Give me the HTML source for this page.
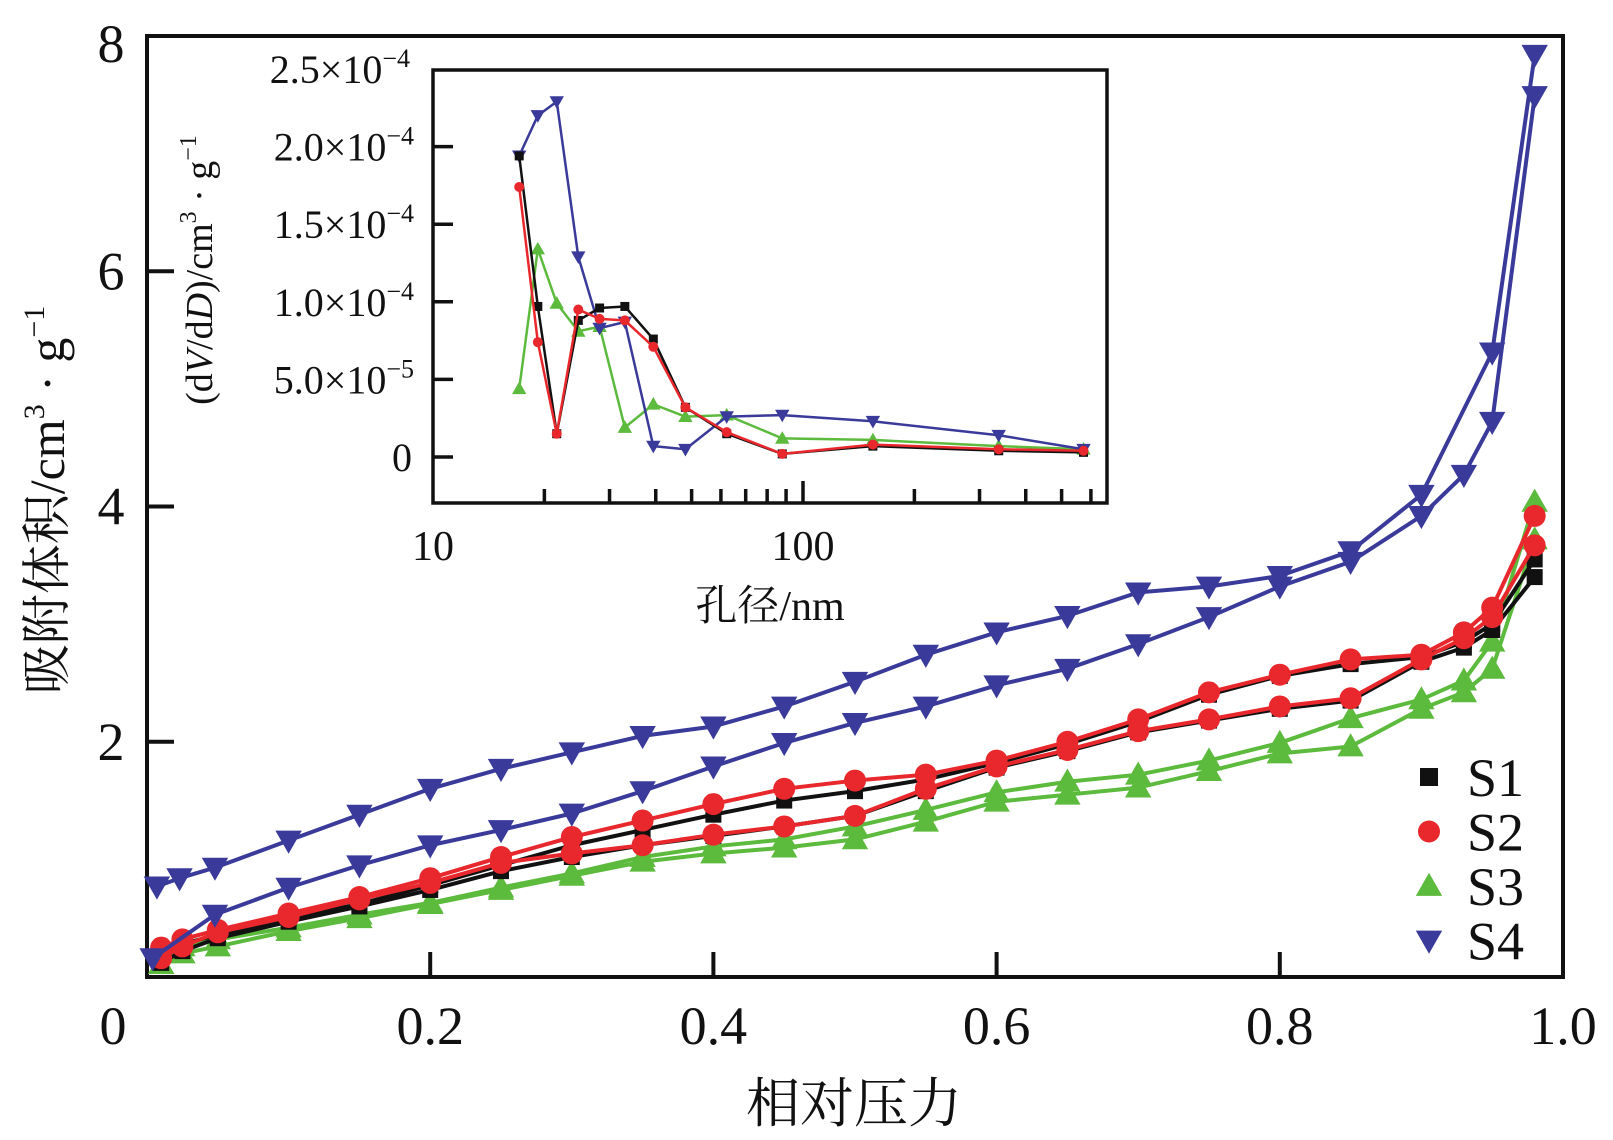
<!DOCTYPE html>
<html><head><meta charset="utf-8"><style>
html,body{margin:0;padding:0;background:#fff;}
svg{display:block;}
text{font-family:"Liberation Serif","Noto Serif CJK SC",serif;}
</style></head><body>
<svg id="chart" width="1613" height="1140" viewBox="0 0 1613 1140">
<g id="main"></g>
<g id="inset"></g>
</svg>
<script>
// Main plot data (relative pressure vs adsorbed volume)
const pStd = [0.01,0.025,0.05,0.1,0.15,0.2,0.25,0.3,0.35,0.4,0.45,0.5,0.55,0.6,0.65,0.7,0.75,0.8,0.85,0.9,0.93,0.95,0.98];
const s1Upper = [0.2,0.28,0.36,0.5,0.62,0.78,0.95,1.12,1.25,1.38,1.5,1.58,1.68,1.82,1.98,2.17,2.4,2.56,2.66,2.72,2.85,3.0,3.55];
const s1Lower = [0.12,0.22,0.33,0.47,0.6,0.74,0.9,1.02,1.12,1.2,1.28,1.37,1.58,1.78,1.92,2.08,2.18,2.28,2.35,2.68,2.8,2.95,3.4];
const s2Upper = [0.25,0.32,0.40,0.54,0.68,0.84,1.02,1.19,1.33,1.47,1.60,1.67,1.72,1.84,2.00,2.19,2.42,2.57,2.70,2.74,2.93,3.14,3.92];
const s2Lower = [0.16,0.26,0.38,0.51,0.66,0.80,0.97,1.05,1.12,1.21,1.28,1.37,1.60,1.79,1.93,2.09,2.19,2.30,2.37,2.70,2.88,3.06,3.67];
const s3Upper = [0.11,0.26,0.32,0.42,0.53,0.63,0.76,0.88,1.02,1.11,1.17,1.28,1.42,1.57,1.66,1.72,1.84,1.99,2.20,2.36,2.52,2.85,4.04];
const s3Lower = [0.11,0.2,0.26,0.39,0.5,0.62,0.74,0.86,0.98,1.05,1.10,1.17,1.32,1.49,1.55,1.61,1.75,1.90,1.96,2.28,2.42,2.62,3.72];
const s4UpperP = [0.007,0.023,0.048,0.1,0.15,0.2,0.25,0.3,0.35,0.4,0.45,0.5,0.55,0.6,0.65,0.7,0.75,0.8,0.85,0.9,0.95,0.98];
const s4Upper = [0.77,0.84,0.93,1.16,1.38,1.60,1.77,1.91,2.05,2.13,2.30,2.51,2.74,2.93,3.07,3.27,3.32,3.41,3.62,4.10,5.31,7.84];
const s4LowerP = [0.004,0.048,0.1,0.15,0.2,0.25,0.3,0.35,0.4,0.45,0.5,0.55,0.6,0.65,0.7,0.75,0.8,0.85,0.9,0.93,0.95,0.98];
const s4Lower = [0.16,0.53,0.76,0.95,1.12,1.25,1.39,1.58,1.79,1.99,2.16,2.30,2.48,2.62,2.83,3.06,3.32,3.53,3.92,4.27,4.72,7.49];
const xTicks = [0,0.2,0.4,0.6,0.8,1.0];
const xTickLabels = ["0","0.2","0.4","0.6","0.8","1.0"];
const yTicks = [2,4,6,8];
const yTickLabels = ["2","4","6","8"];
// Inset data (pore size distribution)
const dSize = [17.1,19.2,21.6,24.7,28.2,33,39.4,48.1,62.2,87.9,154.5,338,573];
const i1 = [1.94,0.97,0.15,0.88,0.96,0.97,0.76,0.32,0.15,0.02,0.07,0.04,0.03];
const i2 = [1.74,0.74,0.15,0.95,0.89,0.88,0.71,0.32,0.16,0.02,0.08,0.05,0.04];
const i3 = [0.44,1.34,0.99,0.81,0.84,0.19,0.34,0.26,0.27,0.12,0.11,0.07,0.05];
const i4 = [1.94,2.2,2.29,1.29,0.83,0.87,0.07,0.05,0.26,0.27,0.23,0.14,0.05];
const iyTicks = [0,0.5,1.0,1.5,2.0,2.5];
const iyTickLabels = ["0","5.0×10<tspan dy='-16' font-size='26'>−5</tspan>","1.0×10<tspan dy='-16' font-size='26'>−4</tspan>","1.5×10<tspan dy='-16' font-size='26'>−4</tspan>","2.0×10<tspan dy='-16' font-size='26'>−4</tspan>","2.5×10<tspan dy='-16' font-size='26'>−4</tspan>"];
const ixTicks = [10,100];
const ixTickLabels = ["10","100"];

const NS="http://www.w3.org/2000/svg";
const FONT='"Liberation Serif", "Noto Serif CJK SC", serif';
function mk(parent,tag,attrs,name){const e=document.createElementNS(NS,tag);for(const k in attrs)e.setAttribute(k,attrs[k]);
if(tag==='text') e.setAttribute('font-family',FONT);


parent.appendChild(e);return e;}

const L=147,R=1563,T=36,B=977;
const X=p=>L+p*(R-L);
const Y=v=>B-v/8*(B-T);
const main=document.getElementById('main');
mk(main,'rect',{x:L,y:T,width:R-L,height:B-T,fill:'none',stroke:'#111','stroke-width':4},'main-plot-frame');
xTicks.forEach((t,i)=>{
  if(t>0&&t<1) mk(main,'line',{x1:X(t),x2:X(t),y1:B,y2:B-25,stroke:'#111','stroke-width':4},'x-tick');
  const tx=mk(main,'text',{x:i==0?113:X(t),y:1044,'font-size':54,'text-anchor':'middle',fill:'#111'},'x-tick-label');tx.textContent=xTickLabels[i];
});
yTicks.forEach((t,i)=>{
  if(t<8) mk(main,'line',{x1:L,x2:L+27,y1:Y(t),y2:Y(t),stroke:'#111','stroke-width':4},'y-tick');
  const tx=mk(main,'text',{x:111,y:Y(t)+(i==3?26:18),'font-size':54,'text-anchor':'middle',fill:'#111'},'y-tick-label');tx.textContent=yTickLabels[i];
});
const xt=mk(main,'text',{x:854,y:1122,'font-size':54,'text-anchor':'middle',fill:'#111'},'x-axis-title');xt.textContent='相对压力';
const yt=mk(main,'text',{x:0,y:0,'font-size':50,'text-anchor':'middle',fill:'#111',transform:'translate(64,500) rotate(-90)'},'y-axis-title');
yt.innerHTML="吸附体积/cm<tspan dy='-20' font-size='30'>3</tspan><tspan dy='20'> · g</tspan><tspan dy='-20' font-size='30'>−1</tspan>";

function marker(g,shape,cx,cy,s,color,name){
  if(shape==='sq') return mk(g,'rect',{x:cx-s/2,y:cy-s/2,width:s,height:s,fill:color},name);
  if(shape==='ci') return mk(g,'circle',{cx:cx,cy:cy,r:s/2,fill:color},name);
  if(shape==='up') return mk(g,'polygon',{points:`${cx},${cy-s*0.6} ${cx-s*0.6},${cy+s*0.45} ${cx+s*0.6},${cy+s*0.45}`,fill:color},name);
  return mk(g,'polygon',{points:`${cx},${cy+s*0.6} ${cx-s*0.6},${cy-s*0.45} ${cx+s*0.6},${cy-s*0.45}`,fill:color},name);
}
function series(g,xs,ys,fx,fy,color,shape,s,w,name){
  mk(g,'polyline',{points:xs.map((x,i)=>fx(x)+','+fy(ys[i])).join(' '),fill:'none',stroke:color,'stroke-width':w,'stroke-linejoin':'round'},name+'-line');
  xs.forEach((x,i)=>marker(g,shape,fx(x),fy(ys[i]),s,color,name+'-point'));
}
const C1='#111',C2='#e8282c',C3='#5cba3c',C4='#3a3a9a';
series(main,pStd,s3Upper,X,Y,C3,'up',22,4,'s3-desorption');
series(main,pStd,s3Lower,X,Y,C3,'up',22,4,'s3-adsorption');
series(main,pStd,s1Upper,X,Y,C1,'sq',16,4,'s1-desorption');
series(main,pStd,s1Lower,X,Y,C1,'sq',16,4,'s1-adsorption');
series(main,pStd,s2Upper,X,Y,C2,'ci',22,4,'s2-desorption');
series(main,pStd,s2Lower,X,Y,C2,'ci',22,4,'s2-adsorption');
series(main,s4UpperP,s4Upper,X,Y,C4,'dn',22,4,'s4-desorption');
series(main,s4LowerP,s4Lower,X,Y,C4,'dn',22,4,'s4-adsorption');
// legend
const legNames=['S1','S2','S3','S4'],legCols=[C1,C2,C3,C4],legShapes=['sq','ci','up','dn'];
legNames.forEach((n,i)=>{
  const cy=777+i*54.5;
  marker(main,legShapes[i],1429,cy,i==0?18:22,legCols[i],'legend-marker');
  const t=mk(main,'text',{x:1467,y:cy+19,'font-size':54,fill:'#111'},'legend-entry');t.textContent=n;
});

// inset
const iL=433,iR=1107,iT=70,iB=503,iY0=457;
const IX=d=>iL+(Math.log10(d)-1)*370;
const IY=v=>iY0-v*155.2;
const ins=document.getElementById('inset');
mk(ins,'rect',{x:iL,y:iT,width:iR-iL,height:iB-iT,fill:'#fff',stroke:'#111','stroke-width':3.5},'inset-frame');
iyTicks.forEach((t,i)=>{
  if(t<2.5) mk(ins,'line',{x1:iL,x2:iL+20,y1:IY(t),y2:IY(t),stroke:'#111','stroke-width':3.5},'inset-y-tick');
  const tx=mk(ins,'text',{x:i==0?412:(i==5?410:414),y:IY(t)+14,'font-size':40,'text-anchor':'end',fill:'#111'},'inset-y-tick-label');tx.innerHTML=iyTickLabels[i];
});
[20,30,40,50,60,70,80,90,100,200,300,400,500,600].forEach(d=>{
  const len=d===100?22:14;
  mk(ins,'line',{x1:IX(d),x2:IX(d),y1:iB,y2:iB-len,stroke:'#111','stroke-width':3.5},'inset-x-tick');
});
ixTicks.forEach((t,i)=>{const tx=mk(ins,'text',{x:IX(t),y:560,'font-size':42,'text-anchor':'middle',fill:'#111'},'inset-x-tick-label');tx.textContent=ixTickLabels[i];});
const ixt=mk(ins,'text',{x:770,y:620,'font-size':42,'text-anchor':'middle',fill:'#111'},'inset-x-axis-title');ixt.textContent='孔径/nm';
const iyt=mk(ins,'text',{x:0,y:0,'font-size':38,'text-anchor':'middle',fill:'#111',transform:'translate(212,270) rotate(-90)'},'inset-y-axis-title');
iyt.innerHTML="(d<tspan font-style='italic'>V</tspan>/d<tspan font-style='italic'>D</tspan>)/cm<tspan dy='-16' font-size='24'>3</tspan><tspan dy='16'> · g</tspan><tspan dy='-16' font-size='24'>−1</tspan>";
series(ins,dSize,i3,IX,IY,C3,'up',12,2.5,'inset-s3');
series(ins,dSize,i4,IX,IY,C4,'dn',12,2.5,'inset-s4');
series(ins,dSize,i1,IX,IY,C1,'sq',9,2.5,'inset-s1');
series(ins,dSize,i2,IX,IY,C2,'ci',10,2.5,'inset-s2');
</script>
</body></html>
